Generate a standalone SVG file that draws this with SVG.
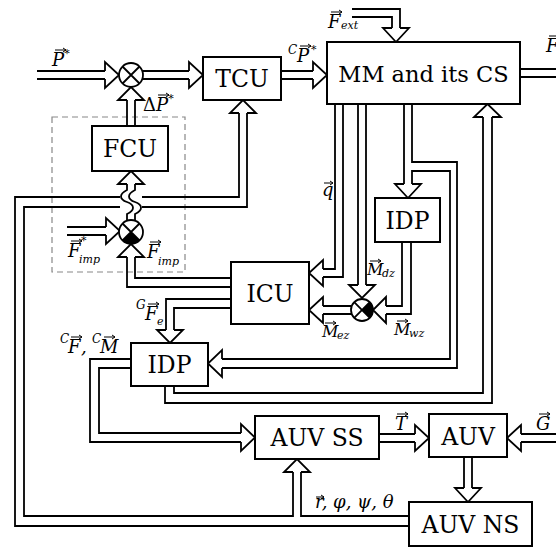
<svg xmlns="http://www.w3.org/2000/svg" width="556" height="547" viewBox="0 0 556 547">
<style>
.box{fill:#fff;stroke:#000;stroke-width:2}
.bt{font-family:'DejaVu Serif','Liberation Serif',serif;font-size:23.5px;text-anchor:middle;fill:#000}
.ln{fill:none;stroke:#000;stroke-width:1.8;stroke-linejoin:miter}
.hd{fill:none;stroke:#000;stroke-width:1.8;stroke-linejoin:miter}
.lb{font-family:'DejaVu Serif','Liberation Serif',serif;font-style:italic;font-size:18px;fill:#000}
.sm{font-size:11px}
.up{font-style:normal}
.va{fill:none;stroke:#000;stroke-width:1}
.dash{fill:none;stroke:#888;stroke-width:1.2;stroke-dasharray:6 4}
.sum{fill:#fff;stroke:#000;stroke-width:1.8}
</style>
<rect width="556" height="547" fill="#fff"/>
<rect class="dash" x="52" y="117" width="133" height="155"/>

<g id="connectors">
  <path class="ln" d="M37,71H105M37,79H105"/>
  <polyline class="hd" points="105,71 105,62 119,75 105,88 105,79"/>
  <path class="ln" d="M143,71H189M143,79H189"/>
  <polyline class="hd" points="189,71 189,62 203,75 189,88 189,79"/>
  <path class="ln" d="M281,71H313M281,79H313"/>
  <polyline class="hd" points="313,71 313,62 327,75 313,88 313,79"/>
  <path class="ln" d="M520,69H556M520,77H556"/>
  <path class="ln" d="M352,9H400V28M352,17H392V28"/>
  <polyline class="hd" points="392,28 383,28 396,42 409,28 400,28"/>
  <path class="ln" d="M127,126V100M135,126V100"/>
  <polyline class="hd" points="127,100 118,100 131,87 144,100 135,100"/>
  <path class="ln" d="M127,220V214C135,210 135,205 127,202C119,199 119,194 127,190V184M135,220V214C143,210 143,205 135,202C127,199 127,194 135,190V184"/>
  <polyline class="hd" points="127,184 118,184 131,171 144,184 135,184"/>
  <path class="ln" d="M67,227H106M67,235H106"/>
  <polyline class="hd" points="106,227 106,218 120,231 106,244 106,235"/>
  <path class="ln" d="M231,287H127V257M231,278H135V257"/>
  <polyline class="hd" points="127,257 118,257 131,244 144,257 135,257"/>
  <path class="ln" d="M231,299H166V330M231,308H174V330"/>
  <polyline class="hd" points="166,330 157,330 170,343 183,330 174,330"/>
  <path class="ln" d="M335,104V269H323M343,104V277H323"/>
  <polyline class="hd" points="323,269 323,260 309,273 323,286 323,277"/>
  <path class="ln" d="M358,104V285M366,104V285"/>
  <polyline class="hd" points="358,285 349,285 362,298 375,285 366,285"/>
  <path class="ln" d="M404,104V184M412,104V162H457V368H222M412,184V171H450V359H222"/>
  <polyline class="hd" points="404,184 395,184 408,198 421,184 412,184"/>
  <polyline class="hd" points="222,359 222,350 208,363.5 222,377 222,368"/>
  <path class="ln" d="M402,242V306H386M411,242V314H386"/>
  <polyline class="hd" points="386,306 386,297 373,310 386,323 386,314"/>
  <path class="ln" d="M351,306H323M351,314H323"/>
  <polyline class="hd" points="323,306 323,297 309,310 323,323 323,314"/>
  <path class="ln" d="M131,359H90V442H241M131,368H99V433H241"/>
  <polyline class="hd" points="241,433 241,424 255,437.5 241,451 241,442"/>
  <path class="ln" d="M165,386V403H492V117M174,386V393H483V117"/>
  <polyline class="hd" points="483,117 474,117 487.5,104 501,117 492,117"/>
  <path class="ln" d="M379,434H415M379,442H415"/>
  <polyline class="hd" points="415,434 415,425 429,438 415,451 415,442"/>
  <path class="ln" d="M556,434H521M556,442H521"/>
  <polyline class="hd" points="521,434 521,425 507,438 521,451 521,442"/>
  <path class="ln" d="M464,457V488M472,457V488"/>
  <polyline class="hd" points="464,488 455,488 468,502 481,488 472,488"/>
  <path class="ln" d="M409,526H15V197H120M142,197H239V113M409,516H301V472M293,472V516H24V207H120M142,207H247V113"/>
  <polyline class="hd" points="239,113 230,113 243,100 256,113 247,113"/>
  <polyline class="hd" points="293,472 284,472 297,459 310,472 301,472"/>
</g>

<g id="sum1">
  <circle class="sum" cx="131" cy="75" r="12"/>
  <path class="ln" d="M122.5,66.5L139.5,83.5M139.5,66.5L122.5,83.5"/>
</g>
<g id="sum2">
  <circle class="sum" cx="131" cy="232" r="12"/>
  <path d="M131,232L139.49,240.49A12,12 0 0,1 122.51,240.49Z" fill="#000"/>
  <path class="ln" d="M122.5,223.5L139.5,240.5M139.5,223.5L122.5,240.5"/>
</g>
<g id="sum3">
  <circle class="sum" cx="362" cy="310" r="11"/>
  <path d="M362,310L369.78,302.22A11,11 0 0,1 369.78,317.78Z" fill="#000"/>
  <path class="ln" d="M354.2,302.2L369.8,317.8M369.8,302.2L354.2,317.8"/>
</g>

<g id="mm"><rect class="box" x="327" y="42" width="193" height="62"/><text class="bt" x="423.5" y="82" style="font-size:22.5px">MM and its CS</text></g>
<g id="tcu"><rect class="box" x="203" y="57" width="78" height="43"/><text class="bt" x="242" y="87">TCU</text></g>
<g id="fcu"><rect class="box" x="92" y="126" width="76" height="45"/><text class="bt" x="130" y="157">FCU</text></g>
<g id="idp1"><rect class="box" x="375" y="198" width="65" height="44"/><text class="bt" x="407.5" y="229">IDP</text></g>
<g id="icu"><rect class="box" x="231" y="262" width="78" height="62"/><text class="bt" x="270" y="302">ICU</text></g>
<g id="idp2"><rect class="box" x="131" y="343" width="77" height="43"/><text class="bt" x="169.5" y="373">IDP</text></g>
<g id="auvss"><rect class="box" x="255" y="416" width="124" height="43"/><text class="bt" x="317" y="446">AUV SS</text></g>
<g id="auv"><rect class="box" x="429" y="414" width="78" height="43"/><text class="bt" x="468" y="445">AUV</text></g>
<g id="auvns"><rect class="box" x="409" y="502" width="123" height="44"/><text class="bt" x="470.5" y="533">AUV NS</text></g>

<g id="labels">
  <text class="lb" x="52" y="66">P<tspan class="sm" dy="-9">*</tspan></text>
  <text class="lb" x="143" y="111"><tspan class="up">Δ</tspan>P<tspan class="sm" dy="-9">*</tspan></text>
  <text class="lb"><tspan style="font-size:12px" x="288" y="54">C</tspan><tspan x="297" y="62">P</tspan><tspan class="sm" x="311" y="53">*</tspan></text>
  <text class="lb"><tspan x="328" y="28">F</tspan><tspan class="sm" x="341" y="29">ext</tspan></text>
  <text class="lb" x="322" y="196">q</text>
  <text class="lb"><tspan x="68" y="257">F</tspan><tspan class="sm" x="81" y="244">*</tspan><tspan class="sm" x="79" y="263">imp</tspan></text>
  <text class="lb"><tspan x="147" y="258">F</tspan><tspan class="sm" x="158" y="265">imp</tspan></text>
  <text class="lb" style="font-size:16px"><tspan x="367" y="275">M</tspan><tspan class="sm" x="382" y="277">dz</tspan></text>
  <text class="lb" style="font-size:16px"><tspan x="322" y="337">M</tspan><tspan class="sm" x="337" y="339">ez</tspan></text>
  <text class="lb" style="font-size:16px"><tspan x="394" y="335">M</tspan><tspan class="sm" x="409" y="337">wz</tspan></text>
  <text class="lb"><tspan style="font-size:12px" x="136" y="309">G</tspan><tspan x="145" y="320">F</tspan><tspan class="sm" x="157" y="325">e</tspan></text>
  <text class="lb"><tspan style="font-size:12px" x="60" y="343">C</tspan><tspan x="68" y="353">F</tspan><tspan x="81" y="353">,</tspan><tspan style="font-size:12px" x="92" y="343">C</tspan><tspan x="100" y="353">M</tspan></text>
  <text class="lb" x="395" y="430">T</text>
  <text class="lb" x="536" y="430">G</text>
  <text class="lb" x="315" y="508">r, φ, ψ, θ</text>
  <text class="lb" x="546" y="52">F</text>
</g>

<g id="vector-accents">
  <path class="va" d="M55,50h11m-3,-2l3,2l-3,2"/>
  <path class="va" d="M158,95h11m-3,-2l3,2l-3,2"/>
  <path class="va" d="M300,46h11m-3,-2l3,2l-3,2"/>
  <path class="va" d="M331,12h11m-3,-2l3,2l-3,2"/>
  <path class="va" d="M324,183h9m-3,-2l3,2l-3,2"/>
  <path class="va" d="M71,241h11m-3,-2l3,2l-3,2"/>
  <path class="va" d="M150,242h11m-3,-2l3,2l-3,2"/>
  <path class="va" d="M370,261h11m-3,-2l3,2l-3,2"/>
  <path class="va" d="M325,323h11m-3,-2l3,2l-3,2"/>
  <path class="va" d="M397,321h11m-3,-2l3,2l-3,2"/>
  <path class="va" d="M148,304h11m-3,-2l3,2l-3,2"/>
  <path class="va" d="M71,337h11m-3,-2l3,2l-3,2"/>
  <path class="va" d="M104,337h11m-3,-2l3,2l-3,2"/>
  <path class="va" d="M397,414h11m-3,-2l3,2l-3,2"/>
  <path class="va" d="M539,414h11m-3,-2l3,2l-3,2"/>
  <path class="va" d="M316,497h8m-3,-2l3,2l-3,2"/>
  <path class="va" d="M549,36h7"/>
</g>
</svg>
